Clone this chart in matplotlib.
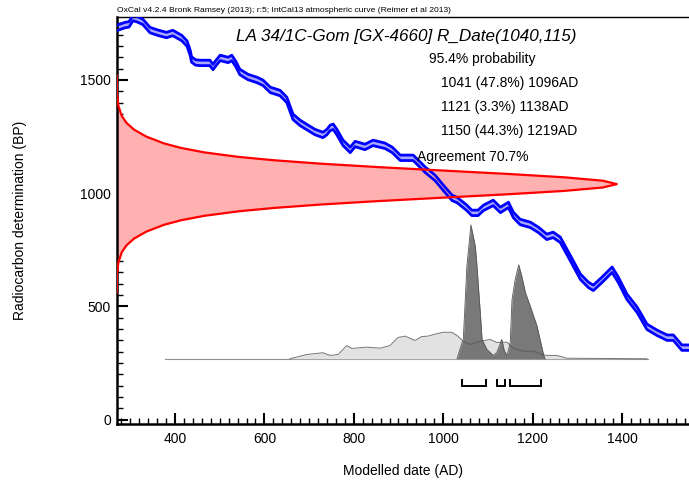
import numpy as np
import matplotlib.pyplot as plt
from matplotlib.ticker import MultipleLocator

plt.rcParams['font.family'] = ['Liberation Sans', 'DejaVu Sans']

# IntCal13 atmospheric curve: calendar year (AD) and radiocarbon age (BP)
cal_year = [269, 288, 297, 306, 315, 328, 344, 362, 381, 395, 415, 427, 434, 437,
            446, 456, 478, 485, 493, 501, 519, 527, 536, 545, 563, 583, 597, 613,
            635, 650, 664, 680, 698, 713, 731, 740, 747, 754, 762, 776, 792, 803,
            825, 843, 870, 886, 904, 933, 960, 982, 1004, 1020, 1031, 1053, 1064,
            1078, 1090, 1112, 1128, 1146, 1157, 1172, 1195, 1213, 1232, 1246, 1262,
            1284, 1307, 1325, 1336, 1355, 1378, 1392, 1411, 1434, 1456, 1478, 1501,
            1515, 1534, 1550]
cal_bp = [1729, 1742, 1745, 1773, 1768, 1756, 1720, 1708, 1698, 1707, 1685, 1660,
          1619, 1590, 1577, 1575, 1575, 1557, 1578, 1597, 1588, 1597, 1570, 1535,
          1513, 1500, 1487, 1456, 1442, 1412, 1337, 1310, 1288, 1270, 1257, 1270,
          1288, 1293, 1270, 1222, 1191, 1217, 1204, 1222, 1209, 1191, 1156, 1156,
          1103, 1067, 1015, 979, 970, 935, 913, 913, 935, 957, 926, 948, 904, 873,
          860, 838, 807, 816, 794, 715, 631, 595, 582, 617, 662, 617, 543, 485, 410,
          384, 362, 362, 318, 318]
cal_sigma = 12

# R_Date(1040,115): mean age, and the plotted likelihood profile as
# offset from the mean (BP) against relative density
rdate_mu, rdate_sd = 1040, 115
rdate_off = [0, 15, 30, 45, 60, 75, 90, 105, 120, 140, 160, 180, 210, 240, 270,
             300, 345, 400, 460, 480]
rdate_p = [1.0, 0.972, 0.895, 0.781, 0.651, 0.523, 0.409, 0.316, 0.244, 0.175,
           0.128, 0.094, 0.059, 0.035, 0.0197, 0.0103, 0.0034, 0.0007, 0.0001, 0.0]

# Unmodelled (prior) and modelled (posterior) date distributions
prior_year = [657, 695, 731, 747, 765, 784, 796, 829, 859, 881, 899, 915, 937, 952,
              966, 978, 1000, 1019, 1031, 1045, 1060, 1083, 1105, 1120, 1143, 1157,
              1179, 1201, 1221, 1232, 1254, 1277, 1456]
prior_p = [0.0, 0.032, 0.045, 0.025, 0.032, 0.099, 0.077, 0.087, 0.079, 0.099, 0.159,
           0.169, 0.137, 0.166, 0.169, 0.181, 0.198, 0.198, 0.174, 0.131, 0.107, 0.131,
           0.144, 0.122, 0.124, 0.077, 0.057, 0.057, 0.032, 0.025, 0.025, 0.004, 0.0]
post_year = [1031, 1038, 1045, 1053, 1062, 1072, 1075, 1083, 1087, 1098, 1112, 1120,
             1131, 1137, 1143, 1150, 1154, 1161, 1169, 1176, 1184, 1195, 1210, 1225, 1228]
post_p = [0.0, 0.077, 0.144, 0.69, 1.0, 0.838, 0.717, 0.345, 0.144, 0.069, 0.025,
          0.047, 0.144, 0.057, 0.025, 0.121, 0.442, 0.59, 0.702, 0.615, 0.494, 0.392,
          0.243, 0.025, 0.0]

# 95.4% highest posterior density ranges
range_from = [1041, 1121, 1150]
range_to = [1096, 1138, 1219]
range_pct = [47.8, 3.3, 44.3]

title = "LA 34/1C-Gom [GX-4660] R_Date(1040,115)"
agreement = 70.7
header = ("OxCal v4.2.4 Bronk Ramsey (2013); r:5; IntCal13 atmospheric curve "
          "(Reimer et al 2013)")

W, H = 689, 487
fig = plt.figure(figsize=(W / 100, H / 100), dpi=100)
ax = fig.add_axes([116.7 / W, 1 - 424 / H, 1 - 116.7 / W, (424 - 16.7) / H])
x0, x1 = 269.5, 1550
y0, y1 = -19, 1779
ax.set_xlim(x0, x1)
ax.set_ylim(y0, y1)

# calibration curve band
cy = np.array(cal_year, float)
cb = np.array(cal_bp, float)
ax.fill_between(cy, cb - cal_sigma, cb + cal_sigma, color='#a8a8ff', lw=0, zorder=2)
ax.plot(cy, cb - cal_sigma, color='#0000ff', lw=2.0, zorder=3)
ax.plot(cy, cb + cal_sigma, color='#0000ff', lw=2.0, zorder=3)

# radiocarbon date on the y axis
red_span = 1119
off = np.array(rdate_off, float)
p = np.array(rdate_p, float)
rbp = np.concatenate([rdate_mu - off[::-1], rdate_mu + off[1:]])
rp = np.concatenate([p[::-1], p[1:]])
rx = x0 + rp * red_span
ax.fill_betweenx(rbp, x0, rx, color='#ffb0b0', lw=0, zorder=2)
ax.plot(rx, rbp, color='#ff0000', lw=1.6, zorder=3)

# modelled date distributions
base = 269
post_span = 591
py_prior = base + np.array(prior_p) * post_span
py_post = base + np.array(post_p) * post_span
ax.plot([378, 1459], [base, base], color='#909090', lw=0.8, zorder=2)
ax.fill_between(prior_year, base, py_prior, color='#e2e2e2', lw=0, zorder=2)
ax.fill_between(post_year, base, py_post, color='#6e6e6e', alpha=0.92, lw=0, zorder=3)
ax.plot(prior_year, py_prior, color='#555555', lw=0.7, alpha=0.8, zorder=4)
ax.plot(post_year, py_post, color='#555555', lw=0.6, zorder=4)

# range brackets
b_lo, b_hi = 150, 176
for a, b in zip(range_from, range_to):
    ax.plot([a, a, b, b], [b_hi, b_lo, b_lo, b_hi], color='black', lw=1.4,
            solid_joinstyle='miter', zorder=4)

# axes styling
for s in ['left', 'bottom']:
    ax.spines[s].set_linewidth(1.8)
ax.spines['top'].set_linewidth(1.0)
ax.spines['right'].set_visible(False)
ax.xaxis.set_major_locator(MultipleLocator(200))
ax.xaxis.set_minor_locator(MultipleLocator(20))
ax.yaxis.set_major_locator(MultipleLocator(500))
ax.yaxis.set_minor_locator(MultipleLocator(50))
ax.tick_params(which='both', direction='in', top=False, right=False,
               labelsize=10, color='black')
ax.tick_params(which='major', length=8, width=1.5, pad=4)
ax.tick_params(which='minor', length=4, width=1.0)
ax.tick_params(axis='x', which='major', pad=6)
ax.set_xlabel("Modelled date (AD)", fontsize=10, labelpad=13)
ax.set_ylabel("Radiocarbon determination (BP)", fontsize=10, labelpad=38)

# annotations
def ftext(px, py, s, **kw):
    fig.text(px / W, 1 - py / H, s, **kw)

ftext(117, 11, header, fontsize=6.1, va='center', ha='left')
ftext(406, 37, title, fontsize=12.3, style='italic', ha='center', va='center')
ftext(429, 59, "95.4% probability", fontsize=10, va='center')
for i, (a, b, pct) in enumerate(zip(range_from, range_to, range_pct)):
    ftext(441, 83 + 24 * i, f"{a} ({pct}%) {b}AD", fontsize=10, va='center')
ftext(417, 157, f"Agreement {agreement}%", fontsize=10, va='center')

fig.savefig("out.png", dpi=100)
